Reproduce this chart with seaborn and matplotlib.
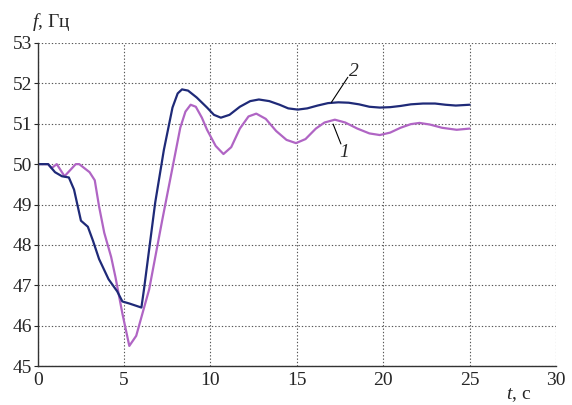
import pandas as pd
import seaborn as sns
import matplotlib.pyplot as plt

# кривая 1 (фиолетовая)
t1 = [0, 0.6, 0.8, 1.1, 1.55, 2.2, 2.4, 3.0, 3.3, 3.55, 3.85, 4.25, 4.5, 4.9, 5.3, 5.7,
      6.45, 7.2, 8.0, 8.25, 8.55, 8.85, 9.15, 9.5, 9.8, 10.3, 10.75, 11.2, 11.7, 12.2,
      12.65, 13.2, 13.8, 14.4, 14.95, 15.5, 16.1, 16.6, 17.2, 17.8, 18.5, 19.2, 19.8,
      20.4, 21.0, 21.6, 22.1, 22.7, 23.4, 24.25, 25.0]
f1 = [50, 50, 49.9, 50, 49.7, 50, 50, 49.8, 49.6, 48.95, 48.3, 47.7, 47.2, 46.3, 45.5, 45.75,
      46.9, 48.6, 50.35, 50.9, 51.3, 51.47, 51.42, 51.15, 50.85, 50.45, 50.25, 50.42, 50.88,
      51.18, 51.25, 51.12, 50.82, 50.6, 50.52, 50.62, 50.88, 51.03, 51.1, 51.03, 50.88,
      50.76, 50.72, 50.78, 50.9, 50.99, 51.02, 50.98, 50.9, 50.85, 50.88]

# кривая 2 (синяя)
t2 = [0, 0.6, 1.0, 1.4, 1.8, 2.1, 2.5, 2.9, 3.2, 3.55, 4.1, 4.6, 4.9, 5.3, 6.0, 6.15,
      6.8, 7.3, 7.8, 8.1, 8.35, 8.7, 9.2, 9.8, 10.2, 10.6, 11.1, 11.7, 12.3, 12.8, 13.4,
      14.0, 14.5, 15.05, 15.6, 16.2, 16.8, 17.4, 18.0, 18.6, 19.2, 19.8, 20.4, 21.0, 21.6,
      22.3, 23.0, 23.6, 24.2, 25.0]
f2 = [50, 50, 49.8, 49.7, 49.67, 49.37, 48.6, 48.45, 48.1, 47.65, 47.15, 46.85, 46.6, 46.55,
      46.45, 46.9, 49.05, 50.35, 51.4, 51.75, 51.85, 51.82, 51.65, 51.4, 51.22, 51.15, 51.22,
      51.42, 51.56, 51.6, 51.56, 51.47, 51.38, 51.35, 51.38, 51.45, 51.51, 51.53, 51.52,
      51.48, 51.42, 51.4, 51.41, 51.44, 51.48, 51.5, 51.5, 51.47, 51.45, 51.47]

df = pd.concat([
    pd.DataFrame({'t': t1, 'f': f1, 'curve': '1'}),
    pd.DataFrame({'t': t2, 'f': f2, 'curve': '2'}),
])

sns.set_style('white')
plt.rcParams['font.family'] = ['Liberation Serif', 'DejaVu Serif']
plt.rcParams['font.size'] = 14
plt.rcParams['mathtext.fontset'] = 'custom'
plt.rcParams['mathtext.rm'] = 'Liberation Serif'
plt.rcParams['mathtext.it'] = 'Liberation Serif:italic'

fig = plt.figure(figsize=(5.72, 4.05), dpi=100)
ax = fig.add_axes([0.066, 0.096, 0.906, 0.798])

sns.lineplot(data=df, x='t', y='f', hue='curve', palette={'1': '#b065c4', '2': '#1f2a78'},
             linewidth=1.6, sort=False, legend=False, ax=ax)

ax.set_xlim(0, 30)
ax.set_ylim(45, 53)
ax.set_xticks(range(0, 31, 5))
ax.set_yticks(range(45, 54))
ax.grid(True, linestyle=(0, (1.2, 1.8)), color='#555555', linewidth=0.8)
for s in ['top', 'right']:
    ax.spines[s].set_visible(False)
for s in ['left', 'bottom']:
    ax.spines[s].set_color('#333333')
    ax.spines[s].set_linewidth(1.0)
ax.tick_params(axis='both', length=3, width=0.8, pad=1, labelsize=14, direction='out',
               left=True, bottom=False)
ax.set_xlabel('')
ax.set_ylabel('')

# подписи осей
fig.text(0.056, 0.945, '$f$, Гц', fontsize=14, ha='left', va='center')
fig.text(0.885, 0.025, '$t$, с', fontsize=14, ha='left', va='center')

# номера кривых с выносками
ax.text(18.3, 52.3, '2', fontsize=14, style='italic', ha='center', va='center')
ax.annotate('', xy=(17.0, 51.53), xytext=(17.95, 52.15),
            arrowprops=dict(arrowstyle='-', color='black', lw=0.8, shrinkA=0, shrinkB=0))
ax.text(17.75, 50.28, '1', fontsize=14, style='italic', ha='center', va='center')
ax.annotate('', xy=(17.1, 50.99), xytext=(17.55, 50.5),
            arrowprops=dict(arrowstyle='-', color='black', lw=0.8, shrinkA=0, shrinkB=0))

plt.savefig('out.png', dpi=100)
